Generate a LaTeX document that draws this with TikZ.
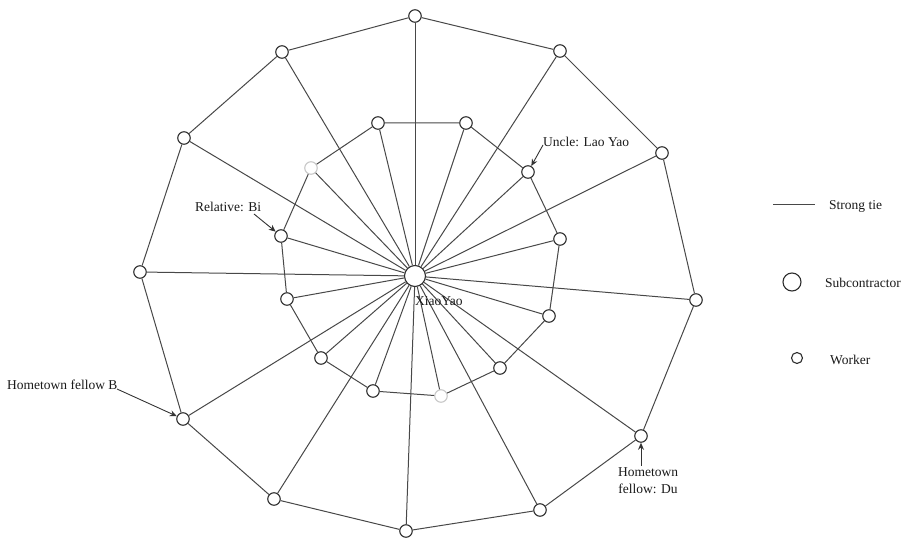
\documentclass[tikz,border=0pt]{standalone}
\usepackage{fontspec}
\setmainfont{Liberation Serif}
\usetikzlibrary{arrows.meta}
\definecolor{edgecol}{HTML}{484848}
\definecolor{nodecol}{HTML}{2E2E2E}
\definecolor{faintcol}{HTML}{C8C8C8}
\tikzset{
  worker/.style={circle,draw=nodecol,line width=1.1pt,fill=white,inner sep=0pt,minimum size=12.5pt},
  faintworker/.style={worker,draw=faintcol},
  subc/.style={circle,draw=nodecol,line width=1.1pt,fill=white,inner sep=0pt,minimum size=21pt},
  tie/.style={draw=edgecol,line width=1pt},
  lbl/.style={font=\fontsize{13.5}{17}\selectfont,text=black!90,inner sep=0pt},
  pointer/.style={draw=black!80,line width=0.9pt,-{Stealth[length=7pt,width=6pt]}}
}
\begin{document}
\begin{tikzpicture}[x=1pt,y=-1pt]
\useasboundingbox (0,0) rectangle (906,545);
% center
\node[subc] (c) at (415,276) {};
% outer ring
\node[worker] (o1) at (415,16) {};
\node[worker] (o2) at (560,51) {};
\node[worker] (o3) at (662,153) {};
\node[worker] (o4) at (696,300) {};
\node[worker] (o5) at (641,436) {};
\node[worker] (o6) at (540,510) {};
\node[worker] (o7) at (406,531) {};
\node[worker] (o8) at (274,499) {};
\node[worker] (o9) at (183,419) {};
\node[worker] (o10) at (140,272) {};
\node[worker] (o11) at (184,138) {};
\node[worker] (o12) at (282,52) {};
% inner ring
\node[worker] (i1) at (378,123) {};
\node[worker] (i2) at (466,123) {};
\node[worker] (i3) at (528,172) {};
\node[worker] (i4) at (560,239) {};
\node[worker] (i5) at (549,316) {};
\node[worker] (i6) at (500,368) {};
\node[faintworker] (i7) at (441,396) {};
\node[worker] (i8) at (373,391) {};
\node[worker] (i9) at (321,358) {};
\node[worker] (i10) at (287,299) {};
\node[worker] (i11) at (281,236) {};
\node[faintworker] (i12) at (311,168) {};
% spokes
\foreach \n in {o1,o2,o3,o4,o5,o6,o7,o8,o9,o10,o11,o12,i1,i2,i3,i4,i5,i6,i7,i8,i9,i10,i11,i12}
  \draw[tie] (c) -- (\n);
% rings
\draw[tie] (o1)--(o2) (o2)--(o3) (o3)--(o4) (o4)--(o5) (o5)--(o6) (o6)--(o7)
  (o7)--(o8) (o8)--(o9) (o9)--(o10) (o10)--(o11) (o11)--(o12) (o12)--(o1);
\draw[tie] (i1)--(i2) (i2)--(i3) (i3)--(i4) (i4)--(i5) (i5)--(i6) (i6)--(i7)
  (i7)--(i8) (i8)--(i9) (i9)--(i10) (i10)--(i11) (i11)--(i12) (i12)--(i1);
% labels
\node[lbl,anchor=west] (tc) at (415,301) {XiaoYao};
\node[lbl,anchor=west] (tb) at (195,207) {Relative: Bi};
\coordinate (tba) at (254,214);
\draw[pointer] (tba) -- (i11);
\node[lbl,anchor=west] (tu) at (543,142) {Uncle: Lao Yao};
\coordinate (tua) at (543,145);
\draw[pointer] (tua) -- (i3);
\node[lbl,anchor=west] (th) at (7,385) {Hometown fellow B};
\coordinate (tha) at (117,389);
\draw[pointer] (tha) -- (o9);
\node[lbl,align=center] (td) at (648,481) {Hometown\\fellow: Du};
\coordinate (tda) at (641,466);
\draw[pointer] (tda) -- (o5);
% legend
\coordinate (l1a) at (773,205);
\coordinate (l1b) at (815,205);
\draw[tie] (l1a) -- (l1b);
\node[lbl,anchor=west] (ls) at (829,206) {Strong tie};
\node[subc,minimum size=18pt] (lc) at (792,282) {};
\node[lbl,anchor=west] (lct) at (825,283) {Subcontractor};
\node[worker,minimum size=11pt] (lw) at (797,358) {};
\node[lbl,anchor=west] (lwt) at (830,360) {Worker};
\end{tikzpicture}
\end{document}
